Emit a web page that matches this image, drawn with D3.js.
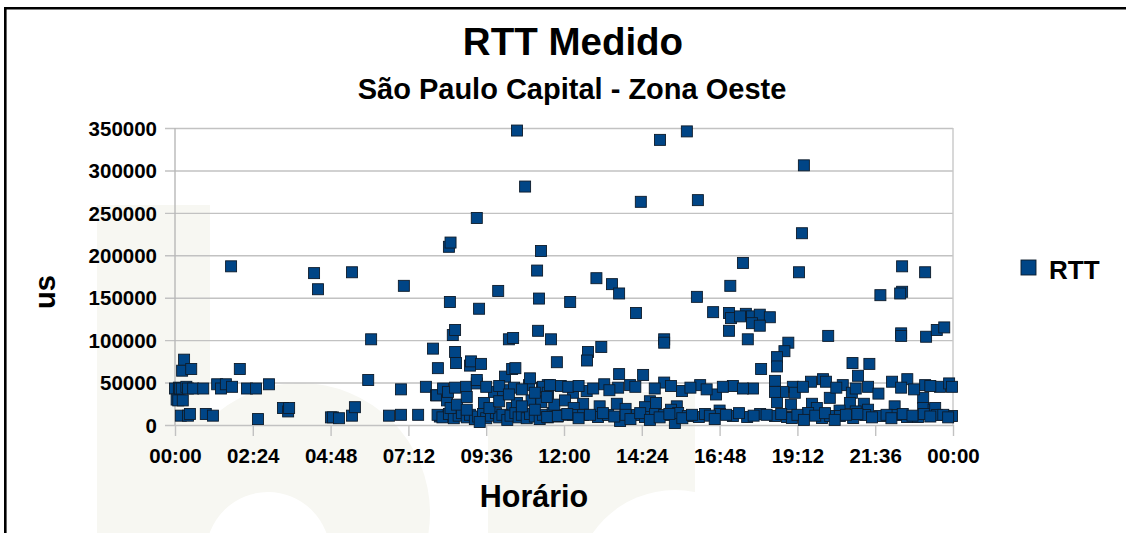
<!DOCTYPE html>
<html>
<head>
<meta charset="utf-8">
<script src="https://cdn.jsdelivr.net/npm/d3@7"></script>
<style>
  body { margin: 0; background: #fff; overflow: hidden; }
  svg { display: block; font-family: "Liberation Sans", Arial, sans-serif; font-weight: bold; }
</style>
</head>
<body>
<svg></svg>
<script>
// horario em horas decimais, RTT em us
let pontosMadrugada = [
  [0.00,43000],[0.05,30000],[0.10,29000],[0.12,44000],[0.15,43000],[0.18,11000],[0.21,43000],[0.22,64000],
  [0.24,29000],[0.28,77000],[0.35,45000],[0.40,11000],[0.40,43000],[0.46,13000],[0.50,66000],[0.56,43000],
  [0.87,43000],[0.95,13000],[1.17,11000],[1.30,48000],[1.42,43000],[1.57,48000],[1.73,187000],[1.76,45000],
  [2.00,66000],[2.22,43000],[2.50,43000],[2.56,7000],[2.90,48000],[3.33,20000],[3.49,16000],[3.52,20000],
  [4.29,179000],[4.41,160000],[4.81,9000],[4.87,9000],[5.06,8000],[5.46,180000],[5.46,11000],[5.55,21000],
  [5.96,53000],[6.05,101000],[6.60,11000],[6.97,12000],[6.97,42000],[7.06,164000],[7.50,12000],[7.74,45000],
  [7.96,90000],[8.05,35000]
]

let pontosManha = [
  [8.08,35000],[8.11,67000],[8.17,10000],[8.27,43000],[8.39,29000],[8.39,11000],[8.42,39000],[8.45,210000],
  [8.50,215000],[8.48,145000],[8.57,106000],[8.64,112000],[8.64,86000],[8.67,73000],[8.64,44000],[8.98,45000],
  [9.10,70000],[9.13,75000],[9.31,244000],[9.31,49000],[9.31,53000],[9.38,137000],[9.44,72000],[9.53,26000],
  [9.84,39000],[9.97,158000],[10.12,41000],[10.18,57000],[10.30,101000],[10.43,102500],[10.40,66000],[10.50,67000],
  [10.40,20000],[10.46,44000],[10.55,347000],[10.55,26000],[10.80,281000],[10.92,47000],[10.95,55000],[11.00,29000],
  [11.17,182000],[11.23,149000],[11.20,111000],[11.29,205000],[11.29,29000],[11.32,44000],[11.50,47000],[11.50,33000],
  [11.60,101000],[11.78,74000],[11.35,45000],[11.50,38000],[11.30,27000],
  [8.10,12000],[8.25,9000],[8.45,13000],[8.60,8000],[8.75,11000],[8.85,14000],[9.00,9000],[9.10,12000],
  [9.25,7000],[9.35,10000],[9.50,13000],[9.60,8000],[9.75,11000],[9.90,14000],[10.00,9000],[10.10,12000],
  [10.25,6000],[10.35,11000],[10.50,14000],[10.60,9000],[10.70,12000],[10.85,8000],[10.95,13000],[11.10,10000],
  [11.25,7000],[11.35,12000],[11.50,9000],[11.65,14000],[11.80,10000],[11.95,12000],[9.40,3500],
  [8.50,20000],[8.70,24000],[9.00,18000],[9.70,20000],[10.00,28000],[10.70,22000],[11.10,18000],[11.70,24000],
  [9.00,33000],[9.60,45000],[10.00,46000],[10.30,36000],[10.70,42000],[11.10,38000],[11.90,46000]
]

let pontosTarde = [
  [14.96,336000],[15.79,346000],[19.40,306000],[14.37,263000],[16.13,265000],[19.34,226000],[17.52,191000],
  [19.25,180000],[22.43,187000],[23.14,180000],[13.00,173000],[13.48,166000],[13.70,155000],[17.13,164000],
  [12.19,145000],[16.10,151000],[21.76,153000],[22.43,157000],[22.37,155000],[14.22,132000],[16.60,133000],
  [17.09,132000],[17.15,126000],[17.61,131000],[17.80,128000],[18.04,130000],[18.35,127000],[17.80,120000],
  [18.04,117000],[17.43,128000],[17.09,111000],[17.67,101000],[20.15,105000],[22.40,108000],[22.40,105000],
  [23.17,104000],[23.50,112000],[23.73,115000],[15.09,101000],[15.09,97000],[18.92,97000],[18.80,87000],
  [18.57,80000],[18.57,69000],[18.08,66000],[13.15,92000],[12.74,86000],[12.71,76000],[20.90,73000],
  [21.42,72000],[21.07,58000]
]

let pontosFaixaMedia = [
  [13.70,60000],[14.44,59000],[15.09,50000],[16.20,47000],[13.24,48000],[14.04,47000],[13.67,44000],[12.28,38000],
  [12.70,40000],[11.57,47000],[12.13,45000],[15.64,40000],[16.69,36000],[17.21,46000],[17.83,43000],[17.52,43000],
  [18.51,52000],[19.06,45000],[19.62,51000],[19.99,54000],[20.08,51000],[20.60,47000],[20.88,38000],[21.38,45000],
  [21.70,37000],[22.12,51000],[22.59,54000],[22.40,44000],[23.14,47000],[23.60,45000],[23.88,49000],[23.97,45000],
  [23.08,32000],[23.08,20000],[20.20,32000],[19.65,25000],[20.82,26000],[21.25,25000],[21.38,18000],[14.65,28000],
  [14.84,26000],[15.48,22000],[13.63,25000],[12.59,25000],[12.03,29000],[11.47,33000],[18.57,27000],[18.76,39000],
  [19.12,38000],[19.37,45000],[18.51,39000],[12.45,46000],[12.90,43000],[13.40,41000],[14.20,45000],[14.80,43000],
  [15.30,46000],[15.90,44000],[16.40,42000],[16.90,45000],[20.40,44000],[21.00,43000],[22.80,42000],[23.30,46000],
  [12.30,20000],[13.10,22000],[13.90,19000],[14.50,21000],[15.30,18000],[16.80,17000],[19.00,24000],[19.80,20000],
  [20.50,17000],[21.00,16000],[22.20,22000],[23.40,18000],[23.45,20000]
]

let pontosBase = [
  [11.48,9400],[11.81,10600],[12.28,11800],[12.59,11800],[13.05,9400],[13.36,11800],[13.73,4700],[14.25,11800],
  [14.50,9400],[14.81,13000],[15.09,11800],[15.42,2400],[15.52,14100],[15.82,10600],[16.16,9400],[16.35,13000],
  [16.81,13000],[17.21,10600],[17.65,9400],[18.05,13000],[18.51,10600],[18.88,9400],[19.03,8200],[19.53,14100],
  [19.96,8200],[20.21,10600],[20.51,10600],[20.92,8200],[21.29,11800],[21.75,10600],[22.27,11800],[22.58,9400],
  [22.92,9400],[23.51,11800],[23.97,10600],
  [12.10,13000],[12.45,8000],[12.80,12000],[13.20,14000],[13.55,10000],[13.90,12000],[14.05,7000],[14.35,14000],
  [14.65,6000],[14.95,9000],[15.25,13000],[15.65,8000],[15.95,12000],[16.50,11000],[16.65,7000],[17.00,12000],
  [17.40,14000],[17.85,11000],[18.25,12000],[18.70,13000],[19.20,12000],[19.40,6000],[19.75,11000],[20.05,14000],
  [20.35,6000],[20.70,12000],[21.05,13000],[21.50,9000],[21.95,12000],[22.10,8000],[22.45,13000],[22.75,11000],
  [23.10,13000],[23.30,10000],[23.70,12000],[23.85,9000]
]

let yTicks = [0, 50000, 100000, 150000, 200000, 250000, 300000, 350000]
let xTicks = ["00:00","02:24","04:48","07:12","09:36","12:00","14:24","16:48","19:12","21:36","00:00"]

let data = pontosMadrugada.concat(pontosManha, pontosTarde, pontosFaixaMedia, pontosBase)

let width = 1126
let height = 533
let plotLeft = 175, plotRight = 953, plotTop = 128, plotBottom = 425

let svg = d3.select("svg")
svg.attr("width", width).attr("height", height)

let xScale = d3.scaleLinear().domain([0, 24]).range([plotLeft, plotRight])
let yScale = d3.scaleLinear().domain([0, 350000]).range([plotBottom, plotTop])

// marca d'agua clara no fundo
let marca = svg.append("g").attr("fill", "#f7f7f2")
marca.append("rect").attr("x", 97).attr("y", 205).attr("width", 113).attr("height", 340)
marca.append("circle").attr("cx", 300).attr("cy", 513).attr("r", 130)
marca.append("circle").attr("cx", 268).attr("cy", 554).attr("r", 62).attr("fill", "#fff")
marca.append("rect").attr("x", 488).attr("y", 392).attr("width", 207).attr("height", 150)
marca.append("circle").attr("cx", 675).attr("cy", 590).attr("r", 100).attr("fill", "#fff")

// moldura (so topo e esquerda aparecem)
svg.append("path")
   .attr("d", "M5.3,540 V8.3 H1130")
   .attr("fill", "none").attr("stroke", "#000").attr("stroke-width", 2.6)

let drawAxis = () => {
  let yAxis = d3.axisLeft(yScale)
                .tickValues(yTicks)
                .tickSize(plotRight - plotLeft + 10)
                .tickFormat(d3.format("d"))
  svg.append("g")
     .attr("transform", "translate(" + plotRight + ",0)")
     .call(yAxis)
     .call(g => g.select(".domain").remove())
     .call(g => g.selectAll("line").attr("stroke", "#c2c2c2").attr("stroke-width", 1.4))
     .call(g => g.selectAll("text")
        .attr("x", -(plotRight - 157)).attr("dy", "0.35em")
        .attr("fill", "#000").style("font-size", "20.5px").style("font-family", "Liberation Sans, Arial, sans-serif"))

  let xAxis = d3.axisBottom(xScale)
                .tickValues(d3.range(0, 24.01, 2.4))
                .tickSize(11)
                .tickFormat((d, i) => xTicks[i])
  svg.append("g")
     .attr("transform", "translate(0," + plotBottom + ")")
     .call(xAxis)
     .call(g => g.select(".domain").remove())
     .call(g => g.selectAll("line").attr("stroke", "#c2c2c2").attr("stroke-width", 1.4))
     .call(g => g.selectAll("text")
        .attr("y", 38).attr("dy", 0)
        .attr("fill", "#000").style("font-size", "20.5px").style("font-family", "Liberation Sans, Arial, sans-serif"))

  svg.append("line")
     .attr("x1", plotLeft).attr("x2", plotLeft).attr("y1", plotTop).attr("y2", plotBottom)
     .attr("stroke", "#b8b8b8").attr("stroke-width", 1.4)
  svg.append("line")
     .attr("x1", plotRight).attr("x2", plotRight).attr("y1", plotTop).attr("y2", plotBottom)
     .attr("stroke", "#c8c8c8").attr("stroke-width", 1.4)
}

let drawPoints = () => {
  let s = 11
  svg.append("g")
     .selectAll("rect")
     .data(data)
     .enter()
     .append("rect")
     .attr("x", d => xScale(d[0]) - s / 2)
     .attr("y", d => yScale(d[1]) - s / 2)
     .attr("width", s)
     .attr("height", s)
     .attr("fill", "#004586")
     .attr("stroke", "#0d1b2a")
     .attr("stroke-width", 0.9)
}

let drawTexts = () => {
  svg.append("text").attr("x", 573).attr("y", 55)
     .attr("text-anchor", "middle").style("font-size", "38.5px").text("RTT Medido")
  svg.append("text").attr("x", 572).attr("y", 99)
     .attr("text-anchor", "middle").style("font-size", "29px").text("São Paulo Capital - Zona Oeste")
  svg.append("text").attr("x", 534).attr("y", 507)
     .attr("text-anchor", "middle").style("font-size", "30.5px").text("Horário")
  svg.append("text")
     .attr("transform", "translate(55,292) rotate(-90)")
     .attr("text-anchor", "middle").style("font-size", "29px").text("us")

  svg.append("rect").attr("x", 1021).attr("y", 260).attr("width", 15).attr("height", 15)
     .attr("fill", "#004586").attr("stroke", "#0d1b2a").attr("stroke-width", 0.9)
  svg.append("text").attr("x", 1049).attr("y", 279).style("font-size", "26px").text("RTT")
}

drawAxis()
drawPoints()
drawTexts()
</script>
</body>
</html>
